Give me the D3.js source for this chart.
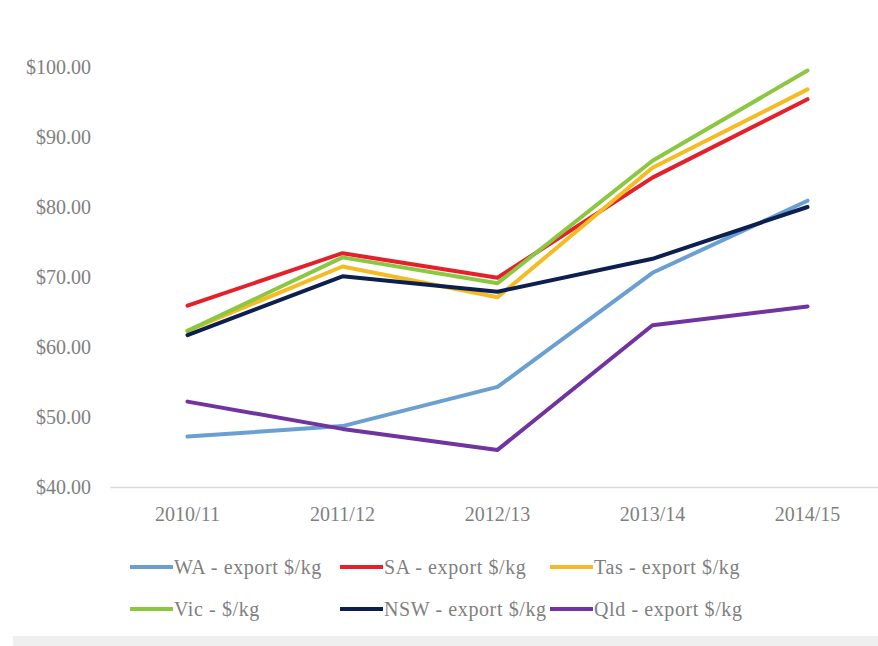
<!DOCTYPE html>
<head>
<meta charset="utf-8">
<style>
    body { margin: 0; background: #fff; }
    text { font-family: "Liberation Serif", "DejaVu Serif", serif; }
</style>
</head>
<body>
    <script src="https://d3js.org/d3.v7.min.js"></script>
    <script>

    ////////// DATA //////////

    const years = ['2010/11', '2011/12', '2012/13', '2013/14', '2014/15'];
    const yTicks = [40, 50, 60, 70, 80, 90, 100];

    const wa  = [47.2, 48.7, 54.3, 70.6, 80.9];
    const sa  = [65.9, 73.4, 69.9, 84.2, 95.4];
    const tas = [62.3, 71.5, 67.1, 85.6, 96.8];
    const vic = [62.3, 72.8, 69.1, 86.6, 99.5];
    const nsw = [61.7, 70.1, 67.9, 72.6, 80.0];
    const qld = [52.2, 48.3, 45.3, 63.1, 65.8];

    const seriesNames = ['WA - export $/kg', 'SA - export $/kg', 'Tas - export $/kg',
                         'Vic - $/kg', 'NSW - export $/kg', 'Qld - export $/kg'];
    const seriesValues = [wa, sa, tas, vic, nsw, qld];
    const colors = ['#6a9fd2', '#e5202a', '#f6bb22', '#8cc741', '#0c1f4e', '#7033a0'];

    ////////// SETUP //////////

    const W = 878, H = 646;
    const plot = { left: 110, right: 885, top: 67, bottom: 487 };

    let svg = d3.select('body').append('svg')
        .attr('width', W)
        .attr('height', H);

    let x = d3.scaleBand().domain(years).range([plot.left, plot.right]);
    let y = d3.scaleLinear().domain([40, 100]).range([plot.bottom, plot.top]);

    // bottom strip
    svg.append('rect')
        .attr('x', 13).attr('y', 636).attr('width', W - 13).attr('height', 10)
        .attr('fill', '#efefef');

    ////////// AXES //////////

    let yAxis = svg.append('g')
        .attr('transform', 'translate(91,0)')
        .call(d3.axisLeft(y).tickValues(yTicks).tickSize(0).tickPadding(0)
            .tickFormat(d => '$' + d3.format('.2f')(d)));
    yAxis.select('.domain').remove();
    yAxis.selectAll('text')
        .attr('fill', '#7f7f7f')
        .style('font-size', '20px');

    let xAxis = svg.append('g')
        .attr('transform', 'translate(0,' + plot.bottom + ')')
        .call(d3.axisBottom(x).tickSize(0).tickPadding(20));
    xAxis.select('.domain').attr('stroke', '#d9d9d9').attr('stroke-width', 1.5);
    xAxis.selectAll('text')
        .attr('fill', '#7f7f7f')
        .style('font-size', '20px');

    ////////// LINES //////////

    let line = d3.line()
        .x((d, i) => x(years[i]) + x.bandwidth() / 2)
        .y(d => y(d));

    svg.append('g').selectAll('path')
        .data(seriesValues)
        .enter().append('path')
            .attr('d', line)
            .attr('fill', 'none')
            .attr('stroke', (d, i) => colors[i])
            .attr('stroke-width', 4)
            .attr('stroke-linejoin', 'round')
            .attr('stroke-linecap', 'round');

    ////////// LEGEND //////////

    const legendX = [130, 340, 550];
    const legendY = [567, 609];

    let legend = svg.append('g').selectAll('g')
        .data(seriesNames)
        .enter().append('g')
            .attr('transform', (d, i) => 'translate(' + legendX[i % 3] + ',' + legendY[Math.floor(i / 3)] + ')');

    legend.append('line')
        .attr('x1', 0).attr('x2', 43)
        .attr('stroke', (d, i) => colors[i])
        .attr('stroke-width', 4);

    legend.append('text')
        .attr('x', 44)
        .attr('dy', '0.35em')
        .attr('fill', '#7f7f7f')
        .style('font-size', '20px')
        .style('letter-spacing', '0.6px')
        .text(d => d);

    </script>
</body>
